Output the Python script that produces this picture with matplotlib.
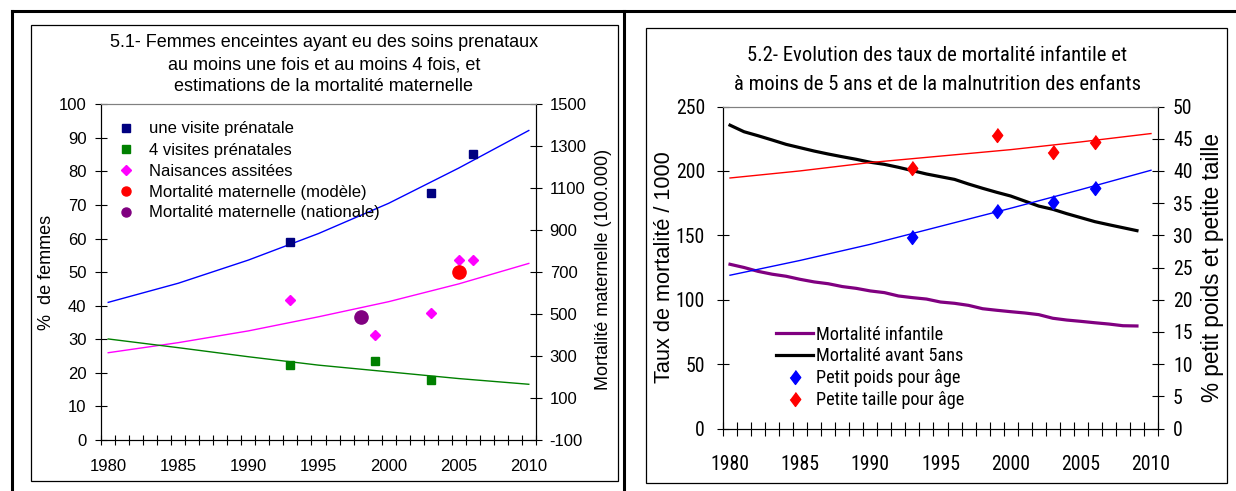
"""Two side-by-side Excel-style panels: 5.1 (antenatal care / maternal
mortality) and 5.2 (child mortality and malnutrition)."""

import os

import matplotlib
matplotlib.use("Agg")
import matplotlib.pyplot as plt
from matplotlib import font_manager as fm
from matplotlib.lines import Line2D
from matplotlib.patches import Rectangle

W, H = 1236, 491

# ---- 5.1 : pregnant women with antenatal care (left axis, %) ----
une_visite_years = [1993, 2003, 2006]
une_visite = [59.1, 73.7, 85.3]
quatre_visites_years = [1993, 1999, 2003]
quatre_visites = [22.3, 23.5, 17.9]
naissances_years = [1993, 1999, 2003, 2005, 2006]
naissances = [41.7, 31.3, 37.9, 53.6, 53.6]
# maternal mortality (right axis, per 100.000)
mm_modele_years = [2005]
mm_modele = [700]
mm_nationale_years = [1998]
mm_nationale = [488]
# trend lines
trend_years = [1980, 1985, 1990, 1995, 2000, 2005, 2010]
trend_une = [41.0, 46.7, 53.6, 61.5, 70.5, 81.0, 92.2]
trend_naiss = [26.0, 29.0, 32.5, 36.7, 41.2, 46.5, 52.6]
trend_quatre = [30.1, 27.5, 24.8, 22.3, 20.3, 18.3, 16.6]

# ---- 5.2 : child mortality (left axis, /1000) ----
mort_years = list(range(1980, 2010))
mort_infantile = [127.5, 125.0, 122.0, 119.8, 118.2, 115.8, 113.8, 112.4, 110.2, 108.8,
                  106.8, 105.5, 102.9, 101.6, 100.5, 98.2, 97.2, 95.6, 93.0, 91.8,
                  90.7, 89.7, 88.4, 85.6, 84.2, 83.2, 82.1, 81.1, 79.8, 79.6]
mort_5ans = [235.5, 230.4, 227.3, 224.0, 220.6, 218.0, 215.4, 213.1, 211.0, 209.0,
             206.7, 205.1, 202.8, 200.2, 197.6, 195.5, 193.4, 189.8, 186.5, 183.4,
             180.5, 176.6, 172.7, 170.2, 166.8, 163.7, 160.6, 158.2, 155.9, 153.6]
# malnutrition (right axis, %)
maln_years = [1993, 1999, 2003, 2006]
petit_poids = [29.8, 33.7, 35.2, 37.4]
petite_taille = [40.5, 45.6, 43.0, 44.5]
trend_poids = [23.8, 26.1, 28.6, 31.4, 34.2, 37.1, 40.1]
trend_taille = [38.9, 40.0, 41.3, 42.3, 43.3, 44.5, 45.8]

label_years = [1980, 1985, 1990, 1995, 2000, 2005, 2010]
cat_edges = [y - 0.5 for y in range(1980, 2012)]

plt.rcParams["font.family"] = ["Liberation Sans", "DejaVu Sans"]
plt.rcParams["axes.unicode_minus"] = False


def _have(name):
    try:
        fm.findfont(fm.FontProperties(family=name), fallback_to_default=False)
        return True
    except ValueError:
        return False


def _narrow_font():
    """The right panel uses a narrow face (Arial Narrow look); take the first
    condensed family we can find, else plain Liberation Sans."""
    for fam in ["Liberation Sans Narrow", "Arial Narrow", "Roboto Condensed",
                "Noto Sans Condensed", "DejaVu Sans Condensed", "Open Sans Condensed"]:
        if _have(fam):
            return fm.FontProperties(family=fam)
    for fam in ["Liberation Sans", "Noto Sans", "Roboto", "DejaVu Sans", "Open Sans"]:
        p = fm.FontProperties(family=fam, stretch="condensed", weight="normal")
        try:
            f = fm.findfont(p, fallback_to_default=False)
        except ValueError:
            continue
        base = os.path.basename(f)
        if ("ondensed" in base or "arrow" in base) and "Bold" not in base \
                and "Italic" not in base and "Light" not in base:
            return fm.FontProperties(fname=f)
    return fm.FontProperties(family="Liberation Sans")


def fx(x):
    return x / W


def fy(y):
    return 1 - y / H


def px_axes(l, t, r, b):
    return [fx(l), fy(b), (r - l) / W, (b - t) / H]


fig = plt.figure(figsize=(W / 100, H / 100), dpi=100)
renderer = fig.canvas.get_renderer()


def sized(prop, size):
    p = prop.copy()
    p.set_size(size)
    return p


def size_for_width(prop, text, width_px):
    w = renderer.get_text_width_height_descent(text, sized(prop, 10), ismath=False)[0]
    return 10 * width_px / w


def line_step(prop):
    _, h, d = renderer.get_text_width_height_descent("lp", prop, ismath=False)
    return h - d


NARROW = _narrow_font()
REG = fm.FontProperties(family="Liberation Sans")
r_title = sized(NARROW, size_for_width(NARROW, "5.2- Evolution des taux de mortalité infantile et", 377))
r_leg = sized(NARROW, size_for_width(NARROW, "Mortalité avant 5ans", 147))
r_tick = sized(NARROW, size_for_width(NARROW, "1980", 38.5))
l_leg = sized(REG, 12)


def cat_xaxis(ax, minor_len, pad, prop):
    ax.set_xlim(1979.5, 2010.5)
    ax.set_xticks(label_years, labels=[str(y) for y in label_years], fontproperties=prop)
    ax.set_xticks(cat_edges, minor=True)
    ax.tick_params(axis="x", which="major", length=0, pad=pad)
    ax.tick_params(axis="x", which="minor", direction="inout", length=minor_len,
                   width=0.8, color="black")


# outer frame and panel boxes
for (x0, y0, x1, y1) in [(12, 11, W, 11), (12, 11, 12, H), (624, 11, 624, H)]:
    fig.add_artist(Line2D([fx(x0), fx(x1)], [fy(y0), fy(y1)], color="black", lw=2.2))
fig.add_artist(Rectangle((fx(30.7), fy(480.5)), (618 - 30.7) / W, (480.5 - 25) / H,
                         fill=False, ec="black", lw=0.9))
fig.add_artist(Rectangle((fx(646), fy(482.5)), (1227 - 646) / W, (482.5 - 27.5) / H,
                         fill=False, ec="black", lw=0.9))

# ================= panel 5.1 =================
ax = fig.add_axes(px_axes(101.2, 104.3, 535.8, 440))
ax2 = ax.twinx()
ax.plot(trend_years, trend_une, color="#0000FF", lw=1.0)
ax.plot(trend_years, trend_naiss, color="#FF00FF", lw=1.0)
ax.plot(trend_years, trend_quatre, color="#008000", lw=1.0)
ax.plot(une_visite_years, une_visite, ls="none", marker="s", ms=6, color="#000080")
ax.plot(quatre_visites_years, quatre_visites, ls="none", marker="s", ms=6, color="#008000")
ax.plot(naissances_years, naissances, ls="none", marker="D", ms=5.5, color="#FF00FF")
ax2.plot(mm_modele_years, mm_modele, ls="none", marker="o", ms=9.5, color="#FF0000")
ax2.plot(mm_nationale_years, mm_nationale, ls="none", marker="o", ms=9.5, color="#800080")

ax.set_ylim(0, 100)
ax.set_yticks(range(0, 101, 10))
ax2.set_ylim(-100, 1500)
ax2.set_yticks(range(-100, 1501, 200))
ax.tick_params(axis="y", direction="inout", length=8, width=0.8, pad=6.5, labelsize=12)
ax2.tick_params(axis="y", direction="inout", length=8, width=0.8, pad=6, labelsize=12)
cat_xaxis(ax, 7, 14, sized(REG, 12))
for a in (ax, ax2):
    for s in a.spines.values():
        s.set_linewidth(0.8)
    a.spines["top"].set_color("#808080")

# legend with small proxy markers, as in the original
proxies = [
    Line2D([], [], ls="none", marker="s", ms=5.5, color="#000080", label="une visite prénatale"),
    Line2D([], [], ls="none", marker="s", ms=5.5, color="#008000", label="4 visites prénatales"),
    Line2D([], [], ls="none", marker="D", ms=5, color="#FF00FF", label="Naisances assitées"),
    Line2D([], [], ls="none", marker="o", ms=6.5, color="#FF0000",
           label="Mortalité maternelle (modèle)"),
    Line2D([], [], ls="none", marker="o", ms=6.5, color="#800080",
           label="Mortalité maternelle (nationale)"),
]
l_fs = 12 * 100 / 72
l_h = renderer.get_text_width_height_descent("Mortalité (é)", l_leg, ismath=False)[1]
ax2.legend(handles=proxies, loc="upper left",
           bbox_to_anchor=(fx(118), fy(121.5)), bbox_transform=fig.transFigure,
           frameon=False, prop=l_leg, borderpad=0, borderaxespad=0,
           handlelength=1.0, handletextpad=0.85, labelspacing=(21 - l_h) / l_fs)

t1 = sized(REG, 13)
fig.text(fx(324), fy(64.5), "5.1- Femmes enceintes ayant eu des soins prenataux\n"
         "au moins une fois et au moins 4 fois, et\n"
         "estimations de la mortalité maternelle",
         ha="center", va="center", fontproperties=t1, linespacing=1.38)
fig.text(fx(46.7), fy(272), "%  de femmes", rotation=90, ha="center", va="center",
         fontsize=13)
fig.text(fx(604), fy(269), "Mortalité maternelle (100.000)", rotation=90,
         ha="center", va="center", fontsize=13)

# ================= panel 5.2 =================
bx = fig.add_axes(px_axes(723, 106.5, 1158, 428.5))
bx2 = bx.twinx()
g1, = bx.plot(mort_years, mort_infantile, color="#800080", lw=2.3,
              label="Mortalité infantile")
g2, = bx.plot(mort_years, mort_5ans, color="black", lw=2.3,
              label="Mortalité avant 5ans")
bx2.plot(trend_years, trend_taille, color="#FF0000", lw=1.0)
bx2.plot(trend_years, trend_poids, color="#0000FF", lw=1.0)
diamond = [(0, 1), (0.75, 0), (0, -1), (-0.75, 0)]
g3, = bx2.plot(maln_years, petit_poids, ls="none", marker=diamond, ms=10,
               color="#0000FF", label="Petit poids pour âge")
g4, = bx2.plot(maln_years, petite_taille, ls="none", marker=diamond, ms=10,
               color="#FF0000", label="Petite taille pour âge")

bx.set_ylim(0, 250)
b_ticks = list(range(0, 251, 50))
bx.set_yticks(b_ticks, labels=[str(v) for v in b_ticks], fontproperties=r_tick)
bx2.set_ylim(0, 50)
b2_ticks = list(range(0, 51, 5))
bx2.set_yticks(b2_ticks, labels=[str(v) for v in b2_ticks], fontproperties=r_tick)
bx.tick_params(axis="y", direction="inout", length=8, width=0.8, pad=9)
bx2.tick_params(axis="y", direction="inout", length=8, width=0.8, pad=6.8)
cat_xaxis(bx, 10, 19, r_tick)
for a in (bx, bx2):
    for s in a.spines.values():
        s.set_linewidth(0.8)
    a.spines["top"].set_color("#808080")

r_fs = r_leg.get_size_in_points() * 100 / 72
r_h = renderer.get_text_width_height_descent("Mortalité (â)", r_leg, ismath=False)[1]
bx2.legend(handles=[g1, g2, g3, g4], loc="upper left",
           bbox_to_anchor=(fx(776), fy(325.5)), bbox_transform=fig.transFigure,
           frameon=False, prop=r_leg, borderpad=0, borderaxespad=0,
           handlelength=37 / r_fs, handletextpad=3.5 / r_fs,
           labelspacing=max(0.0, (23 - r_h) / r_fs))

fig.text(fx(937.5), fy(70), "5.2- Evolution des taux de mortalité infantile et\n"
         "à moins de 5 ans et de la malnutrition des enfants",
         ha="center", va="center", fontproperties=r_title,
         linespacing=0.857 * 30 / line_step(r_title))
fig.text(fx(665), fy(267.5), "Taux de mortalité / 1000", rotation=90, ha="center",
         va="center", fontsize=15.7)
fig.text(fx(1213), fy(268), "% petit poids et petite taille", rotation=90,
         ha="center", va="center", fontsize=16.3)

fig.savefig("out.png", dpi=100)
